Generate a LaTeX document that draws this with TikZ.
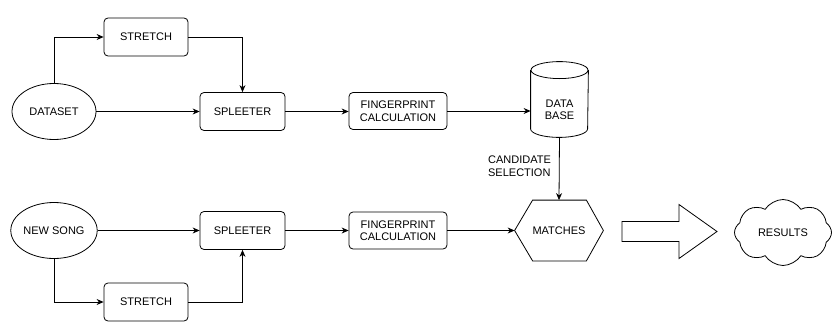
\documentclass[tikz,border=0pt]{standalone}
\usepackage{fontspec}
\setmainfont{Liberation Sans}
\usetikzlibrary{shapes.geometric,shapes.symbols,arrows.meta,calc}
\begin{document}
\begin{tikzpicture}[x=1pt,y=-1pt,
  font=\fontsize{11}{12.5}\selectfont,
  line width=0.8pt,
  box/.style={draw,rounded corners=4pt,minimum width=84pt,minimum height=38pt,inner sep=0pt,align=center},
  oval/.style={draw,ellipse,minimum width=84pt,minimum height=56pt,inner sep=0pt},
  conn/.style={-{Stealth[length=7pt,width=6pt]}},
  plain/.style={inner sep=0pt,align=center}]
\useasboundingbox (0,0) rectangle (832,329);
% top row
\node[oval] (ds) at (54,111.5) {DATASET};
\node[box] (st1) at (146,37) {STRETCH};
\node[box,minimum width=85pt] (sp1) at (242.5,111.5) {SPLEETER};
\node[box,minimum width=98pt,minimum height=37pt] (fp1) at (398,111) {FINGERPRINT\\CALCULATION};
\node[plain,minimum width=57pt,minimum height=75pt] (db) at (559.5,99.5) {};
\node[plain] (dbt) at (559.5,110) {DATA\\BASE};
\draw (db.north) ++(0,8.5) ellipse [x radius=28.5, y radius=8.5];
\draw ($(db.north west)+(0,8.5)$) -- ($(db.south west)+(0,-8.5)$)
  arc[start angle=180,end angle=0,x radius=28.5,y radius=8.5]
  -- ($(db.north east)+(0,8.5)$);
% bottom row
\node[oval] (ns) at (54,230.5) {NEW SONG};
\node[box,minimum width=85pt] (sp2) at (242.5,230.5) {SPLEETER};
\node[box] (st2) at (146,302) {STRETCH};
\node[box,minimum width=98pt,minimum height=37pt] (fp2) at (398,230.5) {FINGERPRINT\\CALCULATION};
\node[plain,minimum width=88pt,minimum height=60pt] (mt) at (559,230.5) {MATCHES};
\draw (mt.west) -- ($(mt.north west)+(18,0)$) -- ($(mt.north east)+(-17,0)$) -- (mt.east)
  -- ($(mt.south east)+(-17,0)$) -- ($(mt.south west)+(18,0)$) -- cycle;
% big arrow
\draw (622,221.5) -- (679,221.5) -- (679,204.5) -- (717,231.5) -- (679,258.5) -- (679,241.5) -- (622,241.5) -- cycle;
\node[draw,cloud,cloud puffs=8,cloud puff arc=115,aspect=1.45,minimum width=97pt,minimum height=66pt,inner sep=0pt] (res) at (783,232.5) {RESULTS};
% connectors top
\draw[conn] (ds.north) |- (st1.west);
\draw[conn] (st1.east) -| (sp1.north);
\draw[conn] (ds.east) -- (sp1.west);
\draw[conn] (sp1.east) -- (sp1.east -| fp1.west);
\draw[conn] (fp1.east) -- (fp1.east -| db.west);
\draw[conn] (db.south) -- node[pos=0.46,anchor=east,align=left,inner sep=0pt,xshift=-8pt]{CANDIDATE\\SELECTION} (mt.north);
% connectors bottom
\draw[conn] (ns.south) |- (st2.west);
\draw[conn] (st2.east) -| (sp2.south);
\draw[conn] (ns.east) -- (sp2.west);
\draw[conn] (sp2.east) -- (fp2.west);
\draw[conn] (fp2.east) -- (mt.west);
\end{tikzpicture}
\end{document}
